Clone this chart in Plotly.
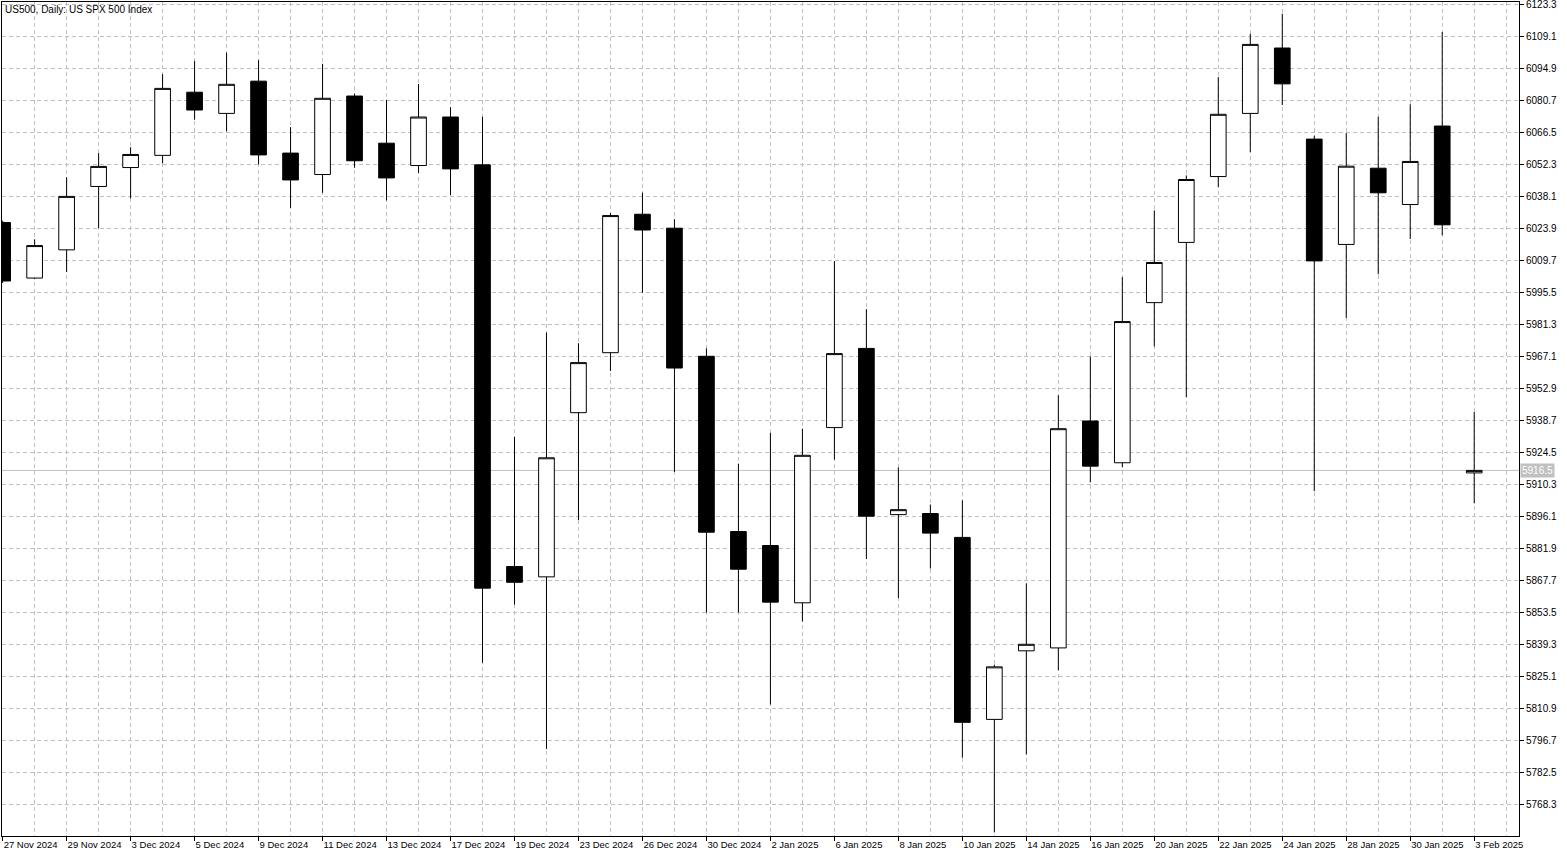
import plotly.graph_objects as go

dates = [
    "27 Nov 2024", "28 Nov 2024", "29 Nov 2024", "2 Dec 2024", "3 Dec 2024", "4 Dec 2024",
    "5 Dec 2024", "6 Dec 2024", "9 Dec 2024", "10 Dec 2024", "11 Dec 2024", "12 Dec 2024",
    "13 Dec 2024", "16 Dec 2024", "17 Dec 2024", "18 Dec 2024", "19 Dec 2024", "20 Dec 2024",
    "23 Dec 2024", "24 Dec 2024", "26 Dec 2024", "27 Dec 2024", "30 Dec 2024", "31 Dec 2024",
    "2 Jan 2025", "3 Jan 2025", "6 Jan 2025", "7 Jan 2025", "8 Jan 2025", "9 Jan 2025",
    "10 Jan 2025", "13 Jan 2025", "14 Jan 2025", "15 Jan 2025", "16 Jan 2025", "17 Jan 2025",
    "20 Jan 2025", "21 Jan 2025", "22 Jan 2025", "23 Jan 2025", "24 Jan 2025", "27 Jan 2025",
    "28 Jan 2025", "29 Jan 2025", "30 Jan 2025", "31 Jan 2025", "3 Feb 2025",
]

opens = [
    6026.4, 6001.8, 6014.3, 6042.4, 6050.8, 6056.2, 6084.2, 6074.8, 6089.1, 6057.2,
    6047.7, 6082.5, 6061.6, 6051.7, 6073.2, 6052.0, 5873.9, 5869.3, 5942.1, 5968.7,
    6030.1, 6023.9, 5967.1, 5889.4, 5883.2, 5857.8, 5935.5, 5970.6, 5896.9, 5897.4,
    5886.8, 5806.1, 5836.5, 5837.8, 5938.4, 5919.9, 5990.9, 6017.6, 6046.8, 6074.8,
    6103.8, 6063.4, 6016.7, 6050.5, 6034.4, 6069.2, 5915.4,
]
highs = [
    6027.2, 6019.0, 6046.5, 6057.2, 6059.8, 6092.2, 6098.0, 6101.7, 6098.4, 6068.7,
    6096.8, 6083.5, 6080.8, 6087.8, 6077.6, 6073.3, 5931.3, 5977.6, 5972.9, 6030.6,
    6039.7, 6027.9, 5970.6, 5919.5, 5933.2, 5935.0, 6009.3, 5988.0, 5917.8, 5901.4,
    5903.2, 5830.4, 5866.4, 5949.8, 5967.0, 6002.2, 6031.8, 6047.3, 6090.9, 6110.1,
    6119.0, 6064.9, 6066.1, 6073.3, 6078.9, 6110.9, 5942.4,
]
lows = [
    5999.6, 6001.3, 6004.5, 6023.9, 6037.1, 6052.7, 6072.0, 6066.9, 6052.2, 6032.9,
    6039.6, 6050.7, 6036.2, 6048.4, 6038.5, 5831.2, 5857.0, 5793.0, 5894.5, 5960.6,
    5995.2, 5915.8, 5853.5, 5853.5, 5812.7, 5849.5, 5921.3, 5877.2, 5859.9, 5873.0,
    5789.1, 5756.0, 5790.6, 5827.9, 5911.2, 5918.0, 5971.5, 5949.0, 6042.2, 6057.6,
    6078.5, 5907.3, 5984.1, 6003.5, 6019.1, 6020.8, 5901.9,
]
closes = [
    6000.5, 6016.2, 6038.0, 6051.3, 6056.6, 6085.9, 6076.3, 6087.7, 6056.4, 6045.3,
    6081.5, 6053.8, 6046.2, 6073.2, 6050.2, 5864.3, 5866.9, 5922.1, 5964.3, 6029.5,
    6023.1, 5961.9, 5889.1, 5872.7, 5858.1, 5923.2, 5968.3, 5896.2, 5899.1, 5888.7,
    5804.8, 5829.4, 5839.4, 5935.0, 5918.4, 5982.5, 6008.7, 6045.5, 6074.4, 6105.4,
    6087.9, 6009.4, 6051.4, 6039.6, 6053.5, 6025.4, 5916.5,
]

title_text = "US500, Daily: US SPX 500 Index"
y_tick0 = 5768.3
y_dtick = 14.2

x_idx = list(range(len(dates)))
tick_positions = x_idx[::2]
tick_labels = dates[::2]

GRID = "#c0c0c0"
DASH = "4px,3px"
FONT = "Liberation Sans"

fig = go.Figure()
fig.add_trace(go.Candlestick(
    x=x_idx, open=opens, high=highs, low=lows, close=closes,
    increasing=dict(line=dict(color="black", width=1), fillcolor="white"),
    decreasing=dict(line=dict(color="black", width=1), fillcolor="black"),
    whiskerwidth=0,
    hoverinfo="skip",
    showlegend=False,
))

last_close = closes[-1]
fig.add_shape(type="line", xref="paper", x0=0, x1=1, yref="y", y0=last_close, y1=last_close,
              line=dict(color=GRID, width=1), layer="below")

fig.add_annotation(text=title_text, xref="paper", yref="paper", x=0.0005, y=1.0,
                   xanchor="left", yanchor="top", showarrow=False,
                   font=dict(family=FONT, size=10, color="black"), borderpad=1)
fig.add_annotation(text=f"{last_close:.1f}", xref="paper", yref="y", x=1, y=last_close,
                   xanchor="left", yanchor="middle", xshift=1, showarrow=False,
                   bgcolor=GRID, font=dict(family=FONT, size=10, color="white"), borderpad=1)

fig.update_layout(
    width=1567, height=857,
    margin=dict(l=2, r=48, t=2, b=21, autoexpand=False),
    paper_bgcolor="white", plot_bgcolor="white",
    font=dict(family=FONT, size=10, color="black"),
    showlegend=False,
    xaxis=dict(
        range=[-0.02, 47.40],
        tickmode="array", tickvals=tick_positions, ticktext=tick_labels,
        tickangle=0,
        tickfont=dict(family=FONT, size=9.5, color="black"),
        ticks="outside", ticklen=4, tickcolor="black", tickwidth=1,
        ticklabelposition="outside right",
        ticklabeloverflow="allow",
        showgrid=True, gridcolor=GRID, griddash=DASH, gridwidth=1,
        minor=dict(dtick=1, tick0=0, showgrid=True, gridcolor=GRID, griddash=DASH, gridwidth=1, ticks=""),
        showline=True, linecolor="black", linewidth=1, mirror=True,
        zeroline=False,
        rangeslider=dict(visible=False),
        fixedrange=True,
    ),
    yaxis=dict(
        range=[5754.4, 6124.2],
        side="right",
        tick0=y_tick0, dtick=y_dtick, tickformat=".1f",
        ticks="outside", ticklen=4, tickcolor="black", tickwidth=1,
        ticklabeloverflow="allow",
        showgrid=True, gridcolor=GRID, griddash=DASH, gridwidth=1,
        showline=True, linecolor="black", linewidth=1, mirror=True,
        zeroline=False,
        fixedrange=True,
    ),
)

fig.write_html("out.html", config={"displayModeBar": False},
               post_script="document.body.style.margin='0';")
